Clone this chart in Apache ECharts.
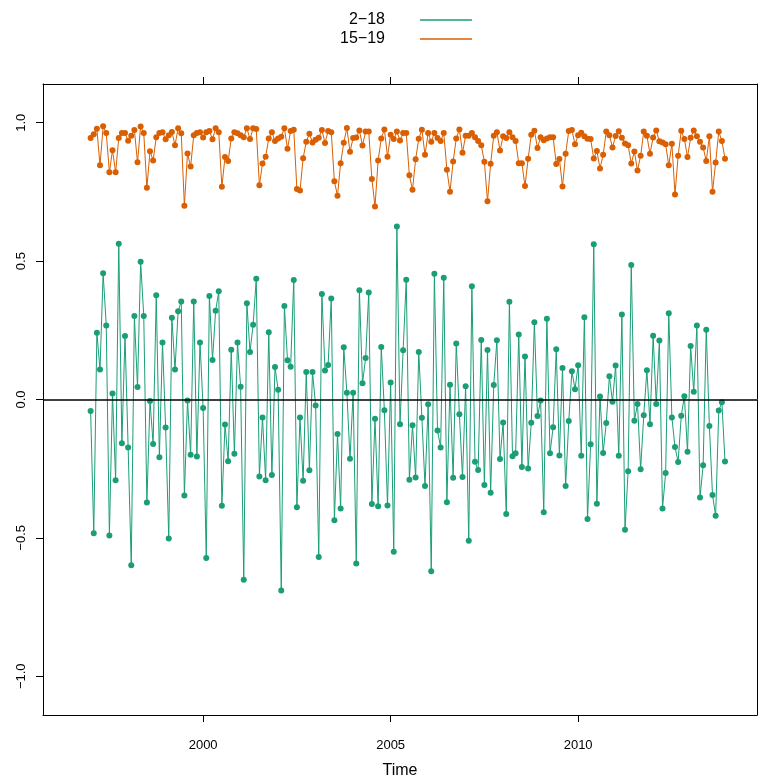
<!DOCTYPE html>
<html>
<head>
<meta charset="utf-8">
<script src="https://cdn.jsdelivr.net/npm/echarts@6/dist/echarts.min.js"></script>
<style>html,body{margin:0;padding:0;background:#fff;}#c{width:761px;height:778px;}</style>
</head>
<body>
<div id="c"></div>
<script>
// Monthly series, January 1997 onward
var startYear = 1997;
var nMonths = 204;
var xTicks = [2000, 2005, 2010];
var yTicks = [-1.0, -0.5, 0.0, 0.5, 1.0];
var seriesNames = ['2\u221218', '15\u221219'];

var s2_18 = [
-0.042,-0.483,0.241,0.108,0.456,0.267,-0.491,0.022,-0.292,0.563,-0.158,0.229,
-0.173,-0.599,0.302,0.045,0.498,0.302,-0.372,-0.005,-0.161,0.377,-0.209,0.206,
-0.101,-0.502,0.295,0.108,0.319,0.354,-0.347,-0.004,-0.200,0.354,-0.206,0.206,
-0.031,-0.573,0.374,0.143,0.321,0.391,-0.384,-0.090,-0.223,0.180,-0.196,0.206,
0.046,-0.651,0.348,0.172,0.270,0.436,-0.278,-0.065,-0.292,0.243,-0.273,0.117,
0.035,-0.690,0.338,0.142,0.118,0.432,-0.389,-0.065,-0.294,0.099,-0.256,0.099,
-0.022,-0.569,0.381,0.105,0.125,0.365,-0.436,-0.125,-0.394,0.189,0.024,-0.214,
0.024,-0.593,0.395,0.059,0.150,0.387,-0.378,-0.070,-0.386,0.190,-0.039,-0.383,
0.061,-0.550,0.625,-0.089,0.178,0.433,-0.290,-0.093,-0.282,0.172,-0.066,-0.313,
-0.017,-0.621,0.454,-0.112,-0.173,0.440,-0.371,0.053,-0.283,0.202,-0.053,-0.280,
0.048,-0.510,0.409,-0.225,-0.255,0.215,-0.309,0.179,-0.337,0.052,0.214,-0.215,
-0.083,-0.414,0.353,-0.205,-0.194,0.235,-0.244,0.155,-0.249,-0.084,0.279,-0.060,
-0.004,-0.407,0.292,-0.194,-0.100,0.182,-0.202,0.114,-0.313,-0.078,0.102,0.037,
0.124,-0.203,0.297,-0.432,-0.162,0.561,-0.377,0.011,-0.193,-0.085,0.084,-0.008,
0.123,-0.203,0.307,-0.471,-0.259,0.486,-0.077,-0.016,-0.252,-0.057,0.106,-0.089,
0.230,-0.016,0.213,-0.394,-0.266,0.312,-0.065,-0.172,-0.226,-0.059,0.012,-0.189,
0.193,0.028,0.267,-0.354,-0.238,0.252,-0.096,-0.345,-0.420,-0.040,-0.010,-0.224
];

var s15_19 = [
0.945,0.958,0.978,0.846,0.987,0.963,0.821,0.901,0.821,0.945,0.963,0.963,
0.935,0.953,0.974,0.857,0.986,0.963,0.765,0.897,0.864,0.948,0.963,0.966,
0.940,0.955,0.967,0.919,0.980,0.962,0.700,0.889,0.842,0.955,0.963,0.966,
0.947,0.966,0.970,0.940,0.980,0.966,0.769,0.876,0.862,0.943,0.966,0.962,
0.955,0.948,0.980,0.941,0.980,0.977,0.774,0.853,0.877,0.943,0.966,0.934,
0.943,0.949,0.980,0.906,0.970,0.975,0.761,0.755,0.872,0.931,0.960,0.929,
0.939,0.946,0.974,0.927,0.970,0.966,0.789,0.736,0.854,0.928,0.981,0.895,
0.945,0.947,0.972,0.918,0.968,0.968,0.797,0.697,0.864,0.943,0.976,0.877,
0.957,0.941,0.968,0.936,0.963,0.963,0.810,0.758,0.868,0.942,0.975,0.884,
0.963,0.931,0.963,0.945,0.934,0.963,0.830,0.751,0.860,0.943,0.976,0.892,
0.953,0.953,0.963,0.948,0.934,0.919,0.859,0.716,0.852,0.953,0.966,0.900,
0.951,0.945,0.966,0.948,0.934,0.854,0.854,0.771,0.870,0.957,0.971,0.909,
0.948,0.937,0.943,0.948,0.948,0.851,0.869,0.770,0.888,0.970,0.974,0.922,
0.955,0.964,0.951,0.942,0.941,0.871,0.898,0.835,0.884,0.968,0.955,0.911,
0.952,0.969,0.946,0.925,0.919,0.853,0.896,0.827,0.881,0.968,0.953,0.888,
0.947,0.972,0.933,0.929,0.922,0.846,0.924,0.741,0.881,0.971,0.941,0.876,
0.946,0.972,0.951,0.931,0.911,0.862,0.951,0.751,0.856,0.968,0.934,0.870
];

var times = [];
for (var i = 0; i < nMonths; i++) times.push(startYear + i / 12);
function pairs(v){ return v.map(function(y,i){ return [times[i], y]; }); }

var green = '#1b9e77', orange = '#d95f02';
var chart = echarts.init(document.getElementById('c'), null, {renderer:'canvas'});
var fmtY = function(v){ var s = Math.abs(v).toFixed(1); return v < 0 ? '\u2212' + s : s; };
var fmtX = function(v){ return String(Math.round(v)); };
chart.setOption({
  animation: false,
  backgroundColor: '#fff',
  textStyle: {fontFamily: 'Liberation Sans, Arial, sans-serif'},
  legend: {
    orient: 'vertical', left: 335, top: 7, align: 'right', itemGap: 3,
    itemWidth: 52, itemHeight: 1.5, icon: 'rect',
    textStyle: {fontSize: 16, color: '#000', padding: [0, 30, 0, 0]},
    data: seriesNames
  },
  grid: {left: 43, right: 4, top: 84, bottom: 63, containLabel: false, outerBoundsMode: 'none'},
  xAxis: [{
    type: 'value', min: 1995.73, max: 2014.77, position: 'bottom',
    name: 'Time', nameLocation: 'middle', nameGap: 48,
    nameTextStyle: {fontSize: 16, color: '#000'},
    axisLine: {show: true, onZero: false, lineStyle: {color: '#000'}},
    axisTick: {show: true, length: 7, customValues: xTicks, lineStyle: {color: '#000'}},
    axisLabel: {customValues: xTicks, fontSize: 13, color: '#000', margin: 24, formatter: fmtX},
    splitLine: {show: false}
  }, {
    type: 'value', min: 1995.73, max: 2014.77, position: 'top',
    axisLine: {show: true, onZero: false, lineStyle: {color: '#000'}},
    axisTick: {show: true, length: 7, customValues: xTicks, lineStyle: {color: '#000'}},
    axisLabel: {show: false},
    splitLine: {show: false}
  }],
  yAxis: [{
    type: 'value', min: -1.14, max: 1.14, position: 'left',
    axisLine: {show: true, onZero: false, lineStyle: {color: '#000'}},
    axisTick: {show: true, length: 7, customValues: yTicks, lineStyle: {color: '#000'}},
    axisLabel: {customValues: yTicks, rotate: 90, fontSize: 13, color: '#000', margin: 15, formatter: fmtY},
    splitLine: {show: false}
  }, {
    type: 'value', min: -1.14, max: 1.14, position: 'right',
    axisLine: {show: true, onZero: false, lineStyle: {color: '#000'}},
    axisTick: {show: false}, axisLabel: {show: false}, splitLine: {show: false}
  }],
  series: [{
    name: seriesNames[0], type: 'line', data: pairs(s2_18),
    color: green, symbol: 'circle', symbolSize: 6, showSymbol: true,
    lineStyle: {width: 1, color: green}, itemStyle: {color: green},
    markLine: {silent: true, symbol: 'none', label: {show: false},
      lineStyle: {color: '#000', width: 1.5, type: 'solid'}, data: [{yAxis: 0}]},
    z: 3
  }, {
    name: seriesNames[1], type: 'line', data: pairs(s15_19),
    color: orange, symbol: 'circle', symbolSize: 6, showSymbol: true,
    lineStyle: {width: 1, color: orange}, itemStyle: {color: orange}, z: 3
  }]
});
</script>
</body>
</html>
